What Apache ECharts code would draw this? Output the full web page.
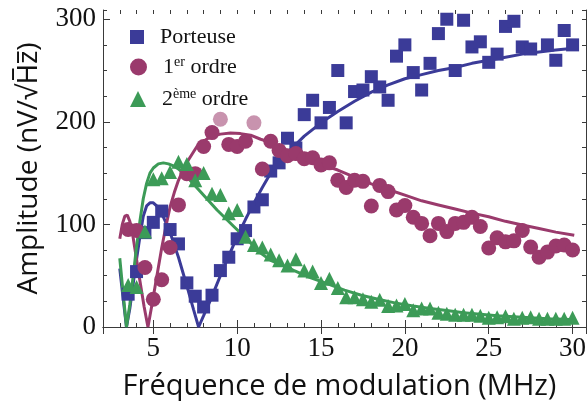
<!DOCTYPE html>
<html>
<head>
<meta charset="utf-8">
<script src="https://cdn.jsdelivr.net/npm/echarts@6/dist/echarts.min.js"></script>
<style>
  html, body { margin: 0; padding: 0; background: #fff; }
  #chart { width: 588px; height: 401px; }
</style>
</head>
<body>
<div id="chart"></div>
<script>
// points mesurés [MHz, nV/sqrt(Hz)]
const porteuse = [
  [3.5, 32], [4, 54], [4.5, 92], [5, 102], [5.5, 113], [6, 95], [6.5, 81], [7, 43], [7.5, 30],
  [8, 19.5], [8.5, 31], [9, 55], [9.5, 68], [10, 86], [10.5, 94], [11, 117], [11.5, 124],
  [12, 152], [12.5, 160], [13, 184], [13.5, 174.5], [14, 207], [14.5, 221], [15, 199],
  [15.5, 214], [16, 250], [16.5, 199], [17, 229.5], [17.5, 231], [18, 244], [18.5, 234],
  [19, 221], [19.5, 264], [20, 275], [20.5, 248], [21, 231], [21.5, 257], [22, 286],
  [22.5, 300], [23, 250], [23.5, 299], [24, 273], [24.5, 278], [25, 258], [25.5, 266],
  [26, 293], [26.5, 298], [27, 273], [27.5, 271], [28.5, 275], [29, 260], [29.5, 289], [30, 275]
];
const ordre1 = [
  [3.5, 95], [4, 94], [4.5, 58], [5, 27], [5.5, 46], [6, 77.5], [6.5, 119], [7, 149.5],
  [7.5, 149.5], [8, 176], [8.5, 189.5], [9, 202.5], [9.5, 178], [10, 176], [10.5, 181],
  [11, 199], [11.5, 154], [12, 181], [12.5, 172], [13, 167], [13.5, 169], [14, 164],
  [14.5, 165], [15, 158], [15.5, 160], [16, 143], [16.5, 136], [17, 143], [17.5, 142],
  [18, 118], [18.5, 138], [19, 132], [19.5, 114], [20, 118.5], [20.5, 107], [21, 101],
  [21.5, 89], [22, 101], [22.5, 93], [23, 101], [23.5, 102], [24, 107], [24.5, 98],
  [25, 77], [25.5, 87], [26, 83], [26.5, 84], [27, 94], [27.5, 78], [28, 68], [28.5, 73],
  [29, 79], [29.5, 80], [30, 75]
];
const ordre1Pales = [9, 11];
const ordre2 = [
  [3.5, 41], [4, 39], [4.5, 93], [5, 144], [5.5, 145], [6, 151], [6.5, 161], [7, 159],
  [7.5, 143], [8, 150], [8.5, 130], [9, 128.6], [9.5, 111], [10, 114], [10.5, 88], [11, 80],
  [11.5, 77.5], [12, 70.7], [12.5, 65], [13, 60], [13.5, 66], [14, 55], [14.5, 54], [15, 43],
  [15.5, 47], [16, 38], [16.5, 29], [17, 29], [17.5, 27], [18, 24.5], [18.5, 26.5], [19, 20.5],
  [19.5, 21], [20, 22.5], [20.5, 16.3], [21, 18], [21.5, 18], [22, 14], [22.5, 13], [23, 12],
  [23.5, 12], [24, 12], [24.5, 11], [25, 9], [25.5, 9.5], [26, 10.5], [26.5, 8], [27, 9],
  [27.5, 9.5], [28, 8], [28.5, 8], [29, 8], [29.5, 8], [30, 9]
];

// courbes d'ajustement
const porteuseFit = [
  [3.0, 57], [3.2, 28], [3.4, 0], [3.6, 18], [3.8, 42], [4.0, 66], [4.2, 88], [4.4, 108],
  [4.6, 118], [4.8, 121], [5.0, 121], [5.2, 118], [5.4, 113], [5.6, 107], [5.8, 100],
  [6.0, 92], [6.5, 68], [7.0, 40], [7.4, 17], [7.7, 0], [8.0, 11], [8.4, 26], [8.8, 42],
  [9.2, 58], [9.6, 73], [10, 88], [10.5, 105], [11, 121], [11.5, 136], [12, 150],
  [12.5, 161], [13, 170], [13.5, 178], [14, 186], [15, 199], [16, 210], [17, 220],
  [18, 229], [19, 236], [20, 242], [21, 246], [22, 250], [23, 253], [24, 257], [25, 260],
  [26, 263], [27, 266], [28, 268], [29, 270], [30.2, 272]
];
const ordre1Fit = [
  [3.0, 86], [3.15, 100], [3.3, 108], [3.45, 109], [3.6, 103], [3.8, 87], [4.0, 66],
  [4.2, 45], [4.45, 20], [4.68, 0], [4.9, 20], [5.1, 39], [5.3, 58], [5.5, 77], [5.75, 98],
  [6.0, 117], [6.25, 131], [6.5, 143], [6.8, 154], [7.1, 163], [7.6, 176], [8.0, 181],
  [8.4, 185.5], [9.0, 188], [9.6, 189], [10.2, 188.5], [10.8, 187], [11.4, 183], [12, 180],
  [13, 172], [14, 165], [15, 158.5], [16, 153], [17, 146], [18, 139.5], [19, 134], [20, 128.5],
  [21, 123], [22, 119], [23, 115], [24, 111], [25, 107.5], [26, 103], [27, 99.5], [28, 96],
  [29, 92.5], [30.1, 89.5]
];
const ordre2Fit = [
  [3.0, 67], [3.2, 33], [3.4, 0], [3.6, 22], [3.8, 50], [4.0, 78], [4.2, 103], [4.4, 125],
  [4.6, 140], [4.8, 150], [5.0, 155], [5.3, 159], [5.6, 160], [5.9, 159], [6.2, 157],
  [6.5, 154], [6.8, 150], [7.3, 141], [7.8, 132], [8.3, 123], [8.8, 114], [9.3, 106],
  [9.8, 98], [10.3, 90], [10.8, 82], [11.4, 72], [12, 65], [12.7, 60], [13.4, 55], [14.4, 48],
  [15.4, 42], [16.4, 36], [17.4, 31], [18.4, 27], [19.4, 23.5], [20.5, 20.5], [21.5, 18],
  [22.5, 16], [23.5, 14], [24.5, 12.5], [25.5, 11], [26.5, 10], [27.5, 9], [28.5, 8],
  [29.5, 7.5], [30.1, 7]
];

const BLEU = '#3b3b98';
const ROSE = '#9a3a6c';
const VERT = '#3c9b57';
const AXE = '#3a3a3a';
const SERIF = '"Liberation Serif", "Times New Roman", serif';
const SANS = '"Open Sans", "Noto Sans", sans-serif';

const chart = echarts.init(document.getElementById('chart'), null, { renderer: 'canvas' });

// axe "majeur" : pas d'interval imposé, ECharts choisit 5 tout seul (5, 10, ... 30)
function axeX(pos, mineur, labels) {
  const axe = {
    type: 'value', position: pos, min: 2, max: 30.8,
    name: labels ? 'Fréquence de modulation (MHz)' : '',
    nameLocation: 'middle', nameGap: 45,
    nameTextStyle: { fontFamily: SANS, fontSize: 29, color: '#111', padding: [0, 10, 0, 0] },
    axisLine: { show: !mineur, lineStyle: { color: AXE, width: 1 } },
    axisTick: { show: true, inside: true, length: mineur ? 4 : 7, lineStyle: { color: AXE, width: 1 } },
    axisLabel: {
      show: labels, margin: 8, fontFamily: SERIF, fontSize: 27, color: '#111',
      showMinLabel: false, showMaxLabel: false,
      formatter: (v) => (v % 5 === 0 ? String(v) : '')
    },
    splitLine: { show: false }
  };
  if (mineur) axe.interval = 1;
  else axe.splitNumber = 6;
  return axe;
}
function axeY(pos, interval, len, labels) {
  return {
    type: 'value', position: pos, min: 0, max: 309, interval: interval,
    name: labels ? 'Amplitude (nV/√H\u0305z\u0305)' : '',
    nameLocation: 'middle', nameGap: 60,
    nameTextStyle: { fontFamily: SANS, fontSize: 28, color: '#111' },
    axisLine: { show: len > 5 || pos === 'right', lineStyle: { color: AXE, width: 1 } },
    axisTick: { show: true, inside: true, length: len, lineStyle: { color: AXE, width: 1 } },
    axisLabel: {
      show: labels, margin: 7, fontFamily: SERIF, fontSize: 27, color: '#111',
      showMaxLabel: false
    },
    splitLine: { show: false }
  };
}

// le décalage texte/icône de la légende est fixe (5 px), on l'allonge avec un blanc "g"
const legendeTexte = {
  fontFamily: SERIF, fontSize: 22, color: '#111',
  rich: {
    g: { width: 11, fontSize: 22, lineHeight: 24 },
    b: { fontFamily: SERIF, fontSize: 22, color: '#111', lineHeight: 24 },
    s: { fontFamily: SERIF, fontSize: 14, color: '#111', lineHeight: 24, verticalAlign: 'top' }
  }
};
function legende(nom, icone, top, taille, fmt) {
  return {
    data: [nom], icon: icone, orient: 'vertical', left: 130, top: top, padding: 0,
    itemWidth: taille, itemHeight: taille, itemGap: 0,
    selectedMode: false, textStyle: legendeTexte, formatter: fmt
  };
}

function points(data, symbole, taille, couleur, nom) {
  return {
    name: nom, type: 'scatter', symbol: symbole, symbolSize: taille,
    xAxisIndex: 0, yAxisIndex: 0, z: 3,
    itemStyle: { color: couleur, opacity: 1 },
    data: data
  };
}
function courbe(data, couleur, nom) {
  return {
    name: nom, type: 'line', data: data, showSymbol: false, smooth: false,
    xAxisIndex: 0, yAxisIndex: 0, z: 2,
    lineStyle: { color: couleur, width: 3 }, itemStyle: { color: couleur }
  };
}

const rouge = points(ordre1.map((p) => (ordre1Pales.includes(p[0])
  ? { value: p, itemStyle: { opacity: 0.55 } } : p)), 'circle', 15, ROSE, '1er ordre');

chart.setOption({
  backgroundColor: '#fff',
  animation: false,
  grid: { left: 103, right: 2, top: 10, bottom: 74, outerBoundsMode: 'none', containLabel: false },
  xAxis: [
    axeX('bottom', false, true),
    axeX('bottom', true, false),
    axeX('top', false, false),
    axeX('top', true, false)
  ],
  yAxis: [
    axeY('left', 100, 7, true),
    axeY('left', 25, 4, false),
    axeY('right', 25, 4, false)
  ],
  legend: [
    legende('Porteuse', 'rect', 26, 14, (n) => '{g| }{b|' + n + '}'),
    legende('1er ordre', 'circle', 55, 17, () => '{g| }{b|1}{s|er}{b| ordre}'),
    legende('2ème ordre', 'triangle', 87, 16, () => '{g| }{b|2}{s|ème}{b| ordre}')
  ],
  series: [
    courbe(porteuseFit, BLEU, 'ajust porteuse'),
    courbe(ordre1Fit, ROSE, 'ajust 1'),
    courbe(ordre2Fit, VERT, 'ajust 2'),
    points(porteuse, 'rect', 13, BLEU, 'Porteuse'),
    rouge,
    points(ordre2, 'triangle', 14, VERT, '2ème ordre')
  ]
});
</script>
</body>
</html>
